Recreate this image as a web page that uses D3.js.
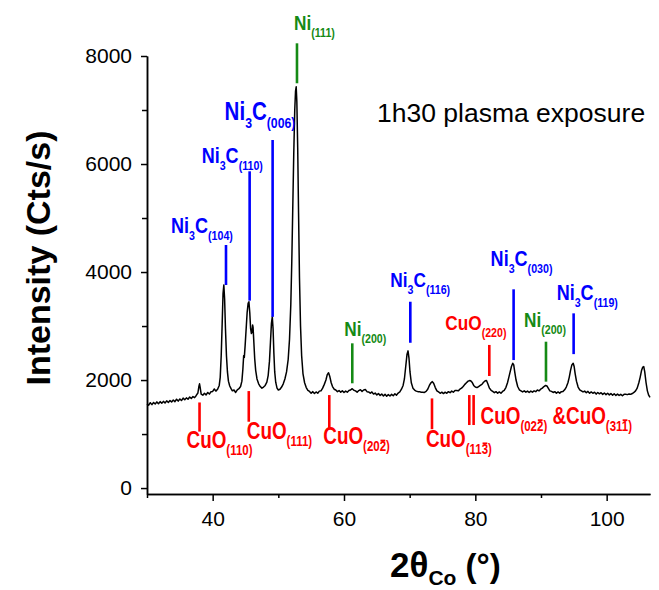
<!DOCTYPE html>
<html>
<head>
<meta charset="utf-8">
<title>XRD - 1h30 plasma exposure</title>
<script src="https://cdn.jsdelivr.net/npm/d3@7"></script>
<style>
  body { margin: 0; background: #fff; }
  svg text { font-family: "Liberation Sans", Arial, sans-serif; white-space: pre; }
</style>
</head>
<body>
<script>
var w = 659, h = 590;

// diffractogram: [2theta (deg), intensity (cts/s)]
var scan = [
  [30.00,1560],[30.25,1535],[30.50,1580],[30.75,1545],[31.00,1585],[31.25,1555],[31.50,1595],[31.75,1560],
  [32.00,1600],[32.25,1570],[32.50,1605],[32.75,1575],[33.00,1615],[33.25,1585],[33.50,1620],[33.75,1595],
  [34.00,1630],[34.25,1600],[34.50,1645],[34.75,1610],[35.00,1650],[35.25,1620],[35.50,1665],[35.75,1635],
  [36.00,1670],[36.25,1645],[36.50,1685],[36.75,1660],[37.00,1695],[37.25,1675],[37.50,1715],[37.75,1760],
  [37.90,1880],[38.00,1930],[38.10,1860],[38.25,1740],[38.50,1720],[38.75,1755],[39.00,1725],[39.25,1770],
  [39.50,1740],[39.75,1785],[40.00,1790],[40.25,1835],[40.50,1795],[40.75,1830],[41.00,1900],[41.15,2050],
  [41.30,2450],[41.45,3050],[41.58,3600],[41.70,3760],[41.82,3500],[41.95,2950],[42.10,2450],[42.25,2150],
  [42.40,1980],[42.60,1890],[42.80,1840],[43.00,1800],[43.25,1815],[43.50,1770],[43.75,1820],[44.00,1840],
  [44.25,1880],[44.45,1980],[44.60,2200],[44.72,2450],[44.82,2420],[44.95,2650],[45.10,2950],[45.25,3250],
  [45.40,3420],[45.52,3450],[45.65,3250],[45.78,2950],[45.90,2860],[46.00,2900],[46.08,3020],[46.15,2980],
  [46.25,2750],[46.40,2400],[46.55,2180],[46.75,2020],[47.00,1930],[47.25,1880],[47.50,1850],[47.75,1870],
  [48.00,1900],[48.25,1960],[48.45,2080],[48.65,2350],[48.80,2700],[48.95,3050],[49.08,3170],[49.20,2950],
  [49.32,2500],[49.45,2150],[49.60,1960],[49.80,1850],[50.00,1815],[50.25,1830],[50.50,1870],[50.75,1930],
  [51.00,2020],[51.25,2150],[51.50,2380],[51.70,2750],[51.90,3400],[52.05,4200],[52.20,5200],[52.35,6200],
  [52.50,7000],[52.62,7350],[52.72,7430],[52.82,7150],[52.95,6300],[53.08,5100],[53.22,3900],[53.38,3000],
  [53.55,2450],[53.75,2120],[54.00,1950],[54.25,1860],[54.50,1810],[54.75,1790],[55.00,1755],[55.25,1785],
  [55.50,1750],[55.75,1780],[56.00,1755],[56.25,1795],[56.50,1800],[56.75,1850],[57.00,1920],[57.25,2000],
  [57.45,2100],[57.65,2135],[57.85,2060],[58.05,1950],[58.25,1880],[58.50,1830],[58.75,1815],[59.00,1785],
  [59.25,1805],[59.50,1775],[59.75,1800],[60.00,1770],[60.25,1795],[60.50,1775],[60.75,1805],[61.00,1815],
  [61.25,1840],[61.50,1810],[61.75,1800],[62.00,1775],[62.25,1805],[62.50,1820],[62.75,1790],[63.00,1815],
  [63.25,1825],[63.50,1785],[63.75,1780],[64.00,1755],[64.25,1780],[64.50,1740],[64.75,1760],[65.00,1725],
  [65.25,1750],[65.50,1715],[65.75,1740],[66.00,1705],[66.25,1735],[66.50,1700],[66.75,1730],[67.00,1705],
  [67.25,1735],[67.50,1710],[67.75,1745],[68.00,1720],[68.25,1760],[68.50,1780],[68.75,1830],[69.00,1900],
  [69.20,2020],[69.40,2250],[69.60,2480],[69.75,2540],[69.90,2400],[70.05,2150],[70.25,1950],[70.50,1850],
  [70.75,1815],[71.00,1795],[71.25,1785],[71.50,1785],[71.75,1775],[72.00,1775],[72.25,1770],[72.50,1790],
  [72.75,1830],[73.00,1900],[73.25,1950],[73.45,1970],[73.65,1940],[73.90,1860],[74.15,1800],[74.40,1780],
  [74.65,1755],[74.90,1775],[75.15,1750],[75.40,1775],[75.65,1755],[75.90,1785],[76.15,1765],[76.40,1795],
  [76.65,1775],[76.90,1805],[77.15,1805],[77.40,1800],[77.65,1830],[77.90,1850],[78.15,1880],[78.40,1920],
  [78.65,1950],[78.90,1980],[79.10,1990],[79.30,1985],[79.50,1960],[79.75,1900],[80.00,1870],[80.25,1860],
  [80.50,1880],[80.75,1900],[81.00,1920],[81.25,1960],[81.50,1985],[81.70,1990],[81.90,1930],[82.15,1850],
  [82.40,1810],[82.65,1790],[82.90,1765],[83.15,1785],[83.40,1755],[83.65,1780],[83.90,1755],[84.15,1790],
  [84.40,1810],[84.65,1860],[84.90,1950],[85.10,2050],[85.30,2150],[85.50,2250],[85.70,2310],[85.85,2280],
  [86.00,2150],[86.20,2000],[86.45,1880],[86.70,1820],[86.95,1800],[87.20,1780],[87.45,1800],[87.70,1775],
  [87.95,1795],[88.20,1770],[88.45,1795],[88.70,1775],[88.95,1800],[89.20,1785],[89.45,1815],[89.70,1800],
  [89.95,1830],[90.20,1850],[90.45,1880],[90.70,1900],[90.90,1890],[91.10,1850],[91.35,1800],[91.60,1790],
  [91.85,1770],[92.10,1785],[92.35,1755],[92.60,1780],[92.85,1755],[93.10,1785],[93.35,1790],[93.60,1820],
  [93.85,1870],[94.10,1950],[94.30,2050],[94.50,2180],[94.70,2280],[94.90,2310],[95.05,2250],[95.20,2120],
  [95.40,1980],[95.65,1870],[95.90,1820],[96.15,1800],[96.40,1780],[96.65,1795],[96.90,1765],[97.15,1790],
  [97.40,1755],[97.65,1780],[97.90,1755],[98.15,1775],[98.40,1740],[98.65,1770],[98.90,1745],[99.15,1765],
  [99.40,1735],[99.65,1760],[99.90,1730],[100.15,1755],[100.40,1725],[100.65,1750],[100.90,1720],[101.15,1745],
  [101.40,1715],[101.65,1740],[101.90,1715],[102.15,1735],[102.40,1710],[102.65,1735],[102.90,1735],[103.15,1730],
  [103.40,1740],[103.65,1735],[103.90,1750],[104.15,1770],[104.40,1800],[104.65,1850],[104.90,1950],[105.10,2050],
  [105.30,2170],[105.50,2240],[105.65,2250],[105.80,2150],[106.00,1950],[106.20,1800],[106.40,1720],[106.60,1680]
];

var xTicks = [40, 60, 80, 100], xMinor = [30, 50, 70, 90];
var yTicks = [0, 2000, 4000, 6000, 8000], yMinor = [1000, 3000, 5000, 7000];

// reflection markers: phase, (hkl) ("-" = bar over next digit), 2theta, line top / bottom in cts/s
var peakPhase  = ["Ni3C", "Ni3C", "Ni3C", "Ni", "Ni", "Ni3C", "CuO", "Ni3C", "Ni", "Ni3C",
                  "CuO", "CuO", "CuO", "CuO", "CuO", "CuO"];
var peakHkl    = ["(104)", "(110)", "(006)", "(111)", "(200)", "(116)", "(220)", "(030)", "(200)", "(119)",
                  "(110)", "(111)", "(20-2)", "(11-3)", "(02-2)", "(31-1)"];
var peakPos    = [42.03, 45.63, 49.13, 52.84, 61.26, 70.10, 82.13, 85.83, 90.76, 94.97,
                  38.00, 45.50, 57.76, 73.40, 79.08, 79.74];
var peakTop    = [4500, 5865, 6445, 8235, 2680, 3450, 2650, 3680, 2710, 3235,
                  1585, 1796, 1722, 1660, 1722, 1722];
var peakBottom = [3760, 3470, 3170, 7495, 1940, 2690, 2075, 2370, 1970, 2480,
                  1045, 1228, 1105, 1090, 1167, 1167];

var phaseColor = { "Ni3C": "#0000ff", "Ni": "#158a15", "CuO": "#ff0000" };

// where each label sits relative to its marker line (pixels)
var labelLayout = [
  {end: "top", dx: -55, dy: -12, size: 22}, {end: "top", dx: -48, dy: -8, size: 22},
  {end: "top", dx: -48, dy: -20, size: 25}, {end: "top", dx: -3, dy: -13, size: 21},
  {end: "top", dx: -8, dy: -7, size: 21},   {end: "top", dx: -20, dy: -15, size: 21},
  {end: "top", dx: -44, dy: -15, size: 21}, {end: "top", dx: -23, dy: -23, size: 22},
  {end: "top", dx: -22, dy: -15, size: 21}, {end: "top", dx: -17, dy: -13, size: 22},
  {end: "bottom", dx: -13, dy: 16, size: 23}, {end: "bottom", dx: -2, dy: 17, size: 23},
  {end: "bottom", dx: -6, dy: 16, size: 23},  {end: "bottom", dx: -6, dy: 18, size: 23},
  {end: "bottom", dx: 7, dy: -1, size: 23, join: true}, null
];

var svg = d3.select("body").append("svg").attr("width", w).attr("height", h);

var x = d3.scaleLinear().domain([30, 106.6]).range([147, 650]);
var y = d3.scaleLinear().domain([-110, 8000]).range([494, 56]);

// axes
function styleAxis(g) {
  g.select(".domain").attr("stroke", "#000").attr("stroke-width", 1.5);
  g.selectAll(".tick line").attr("stroke", "#000").attr("stroke-width", 1.5);
  g.selectAll(".tick text").attr("font-size", 21).attr("fill", "#000")
    .attr("font-family", "'Liberation Sans', Arial, sans-serif");
}
svg.append("g").attr("transform", "translate(0,494)")
  .call(d3.axisBottom(x).tickValues(xMinor).tickSize(4).tickSizeOuter(0).tickFormat(""))
  .call(styleAxis);
svg.append("g").attr("transform", "translate(0,494)")
  .call(d3.axisBottom(x).tickValues(xTicks).tickSize(7).tickSizeOuter(0).tickPadding(10))
  .call(styleAxis);
svg.append("g").attr("transform", "translate(147,0)")
  .call(d3.axisLeft(y).tickValues(yMinor).tickSize(5).tickSizeOuter(0).tickFormat(""))
  .call(styleAxis);
svg.append("g").attr("transform", "translate(147,0)")
  .call(d3.axisLeft(y).tickValues(yTicks).tickSize(6).tickSizeOuter(0).tickPadding(9).tickFormat(d3.format("d")))
  .call(styleAxis);

// pattern
var line = d3.line().x(function(d){ return x(d[0]); }).y(function(d){ return y(d[1]); });
svg.append("path").datum(scan).attr("d", line)
  .attr("fill", "none").attr("stroke", "#000").attr("stroke-width", 1.5).attr("stroke-linejoin", "round");

// marker lines
svg.selectAll("line.peak").data(peakPos).enter().append("line").attr("class", "peak")
  .attr("x1", function(d){ return x(d); }).attr("x2", function(d){ return x(d); })
  .attr("y1", function(d, i){ return y(peakTop[i]); })
  .attr("y2", function(d, i){ return y(peakBottom[i]); })
  .attr("stroke", function(d, i){ return phaseColor[peakPhase[i]]; })
  .attr("stroke-width", 2.6);

// label text pieces: [text, isSubscript]
function labelParts(i) {
  var parts = [];
  peakPhase[i].split(/(\d+)/).forEach(function(s){
    if (s) parts.push([s, /\d/.test(s)]);
  });
  parts.push([peakHkl[i], true]);
  return parts;
}

function drawLabel(i) {
  var lay = labelLayout[i];
  if (!lay) return;
  var parts = labelParts(i);
  if (lay.join) {
    parts.push([" &", false]);
    parts = parts.concat(labelParts(i + 1));
  }
  var px = x(peakPos[i + (lay.join ? 1 : 0)]) + lay.dx;
  var py = (lay.end == "top" ? y(peakTop[i]) : y(peakBottom[i])) + lay.dy;
  var size = lay.size, subSize = Math.round(size * 0.6), shift = Math.round(size * 0.32);
  var g = svg.append("g").attr("transform", "translate(" + px + "," + py + ") scale(0.82,1)");
  var col = phaseColor[peakPhase[i]];
  var t = g.append("text").attr("fill", col).attr("font-weight", "bold");
  var sub = false, idx = 0, bars = [];
  parts.forEach(function(p){
    var clean = "";
    for (var k = 0; k < p[0].length; k++) {
      if (p[0][k] == "-") { bars.push(idx + clean.length); continue; }
      clean += p[0][k];
    }
    var ts = t.append("tspan").text(clean).attr("font-size", p[1] ? subSize : size);
    if (p[1] != sub) ts.attr("dy", p[1] ? shift : -shift);
    sub = p[1];
    idx += clean.length;
  });
  bars.forEach(function(ci){
    var r = t.node().getExtentOfChar(ci);
    var by = r.y + r.height * 0.14;
    g.append("line").attr("x1", r.x + 1).attr("x2", r.x + r.width - 1)
      .attr("y1", by).attr("y2", by).attr("stroke", col).attr("stroke-width", 1.8);
  });
}
for (var i = 0; i < peakPos.length; i++) drawLabel(i);

// sample note
svg.append("text").attr("x", 377).attr("y", 122).attr("font-size", 26.5).attr("fill", "#000")
  .text("1h30 plasma exposure");

// axis titles
svg.append("text").attr("transform", "translate(50,258) rotate(-90)")
  .attr("text-anchor", "middle").attr("font-weight", "bold").attr("font-size", 34)
  .text("Intensity (Cts/s)");

var xt = svg.append("text").attr("x", 390).attr("y", 577).attr("font-weight", "bold");
xt.append("tspan").attr("font-size", 35).text("2θ");
xt.append("tspan").attr("font-size", 21).attr("dy", 8).text("Co");
xt.append("tspan").attr("font-size", 33).attr("dy", -8).text(" (°)");
</script>
</body>
</html>
